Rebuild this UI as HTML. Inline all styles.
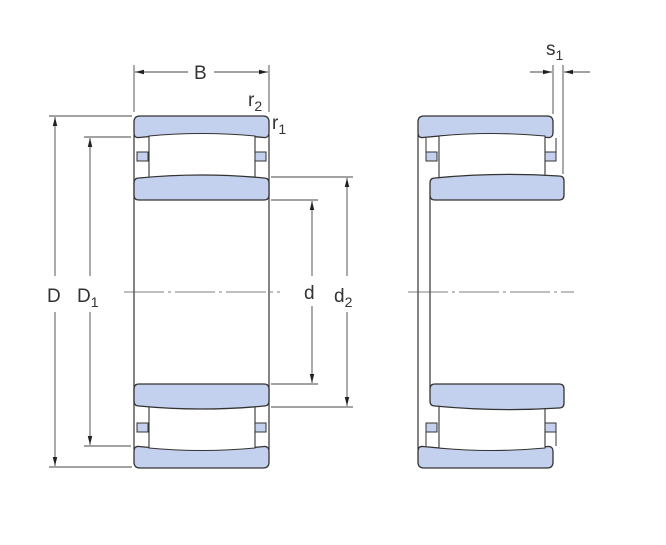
<!DOCTYPE html>
<html><head><style>body{margin:0;background:#fff}svg{display:block}</style></head><body>
<svg width="666" height="545" viewBox="0 0 666 545" xmlns="http://www.w3.org/2000/svg" font-family="Liberation Sans, sans-serif">
<defs>
<marker id="a" viewBox="0 0 10 10" refX="10" refY="5" markerWidth="9" markerHeight="9" markerUnits="userSpaceOnUse" orient="auto-start-reverse"><path d="M0,2.5 L10,5 L0,7.5z" fill="#222"/></marker>
<g id="half">
<path d="M134,122 Q134,116 140,116 L263,116 Q269,116 269,122 L269,132 Q269,138 264,137.5 Q201,131 139,137.5 Q134,138 134,133 Z" fill="#c3d1ee" stroke="#333" stroke-width="1.3"/>
<path d="M149,136 Q201,131 255,136 L255,179 Q201,173 149,179 Z" fill="#fff" stroke="#333" stroke-width="1.1"/>
<path d="M134,183 Q134,178 139,178 Q201,172 264,178 Q269,178 269,183 L269,195 Q269,200 264,200 L139,200 Q134,200 134,195 Z" fill="#c3d1ee" stroke="#333" stroke-width="1.3"/>
<rect x="137" y="152" width="11" height="9" fill="#c3d1ee" stroke="#333"/>
<rect x="255" y="152" width="11" height="9" fill="#c3d1ee" stroke="#333"/>
</g>
<g id="halfR">
<path d="M418,122 Q418,116 424,116 L547,116 Q553,116 553,122 L553,132 Q553,138 548,137.5 Q485,131 423,137.5 Q418,138 418,133 Z" fill="#c3d1ee" stroke="#333" stroke-width="1.3"/>
<path d="M439,136 Q490,131 545,136 L545,179 Q492,173 439,179 Z" fill="#fff" stroke="#333" stroke-width="1.1"/>
<path d="M430,183 Q430,178 435,178 Q497,172 559,176 Q564,176 564,181 L564,195 Q564,200 559,200 L435,200 Q430,200 430,195 Z" fill="#c3d1ee" stroke="#333" stroke-width="1.3"/>
<rect x="426" y="152" width="11" height="9" fill="#c3d1ee" stroke="#333"/>
<rect x="545" y="152" width="11" height="9" fill="#c3d1ee" stroke="#333"/>
<line x1="426" y1="138" x2="426" y2="152" stroke="#333"/>
<line x1="556" y1="138" x2="556" y2="152" stroke="#333"/>
</g>
</defs>
<g stroke="#333" stroke-width="1.2" fill="none">
<line x1="134" y1="134" x2="134" y2="450"/>
<line x1="269" y1="134" x2="269" y2="450"/>
<line x1="418" y1="134" x2="418" y2="450"/>
<line x1="430" y1="196" x2="430" y2="388"/>
</g>
<use href="#half"/>
<use href="#half" transform="translate(0,584) scale(1,-1)"/>
<use href="#halfR"/>
<use href="#halfR" transform="translate(0,584) scale(1,-1)"/>
<g stroke="#555" stroke-width="0.8" stroke-dasharray="40,4,3,4">
<line x1="124" y1="292" x2="280" y2="292"/>
<line x1="408" y1="292" x2="574" y2="292"/>
</g>
<g stroke="#444" stroke-width="0.9" fill="none">
<line x1="49" y1="116" x2="132" y2="116"/><line x1="49" y1="467" x2="132" y2="467"/>
<line x1="84" y1="137" x2="131" y2="137"/><line x1="84" y1="446" x2="131" y2="446"/>
<line x1="271" y1="200" x2="318" y2="200"/><line x1="271" y1="384" x2="318" y2="384"/>
<line x1="271" y1="177" x2="353" y2="177"/><line x1="271" y1="407" x2="353" y2="407"/>
<line x1="134" y1="65" x2="134" y2="112"/><line x1="269" y1="65" x2="269" y2="112"/>
<line x1="553" y1="65" x2="553" y2="114"/><line x1="563" y1="65" x2="563" y2="174"/>
<line x1="55" y1="276" x2="55" y2="117" marker-end="url(#a)"/>
<line x1="55" y1="312" x2="55" y2="466" marker-end="url(#a)"/>
<line x1="90" y1="276" x2="90" y2="138" marker-end="url(#a)"/>
<line x1="90" y1="312" x2="90" y2="445" marker-end="url(#a)"/>
<line x1="312" y1="276" x2="312" y2="201" marker-end="url(#a)"/>
<line x1="312" y1="306" x2="312" y2="383" marker-end="url(#a)"/>
<line x1="347" y1="276" x2="347" y2="178" marker-end="url(#a)"/>
<line x1="347" y1="312" x2="347" y2="406" marker-end="url(#a)"/>
<line x1="188" y1="72" x2="135" y2="72" marker-end="url(#a)"/>
<line x1="214" y1="72" x2="268" y2="72" marker-end="url(#a)"/>
<line x1="530" y1="72" x2="552" y2="72" marker-end="url(#a)"/>
<line x1="590" y1="72" x2="564" y2="72" marker-end="url(#a)"/>
</g>
<g fill="#333" font-size="19">
<text x="47" y="302">D</text>
<text x="77" y="302">D<tspan font-size="14" dy="5">1</tspan></text>
<text x="304" y="299">d</text>
<text x="334" y="302">d<tspan font-size="14" dy="5">2</tspan></text>
<text x="194" y="79">B</text>
<text x="248" y="106">r<tspan font-size="14" dy="5">2</tspan></text>
<text x="272" y="129">r<tspan font-size="14" dy="5">1</tspan></text>
<text x="546" y="55">s<tspan font-size="14" dy="5">1</tspan></text>
</g>
</svg>
</body></html>
